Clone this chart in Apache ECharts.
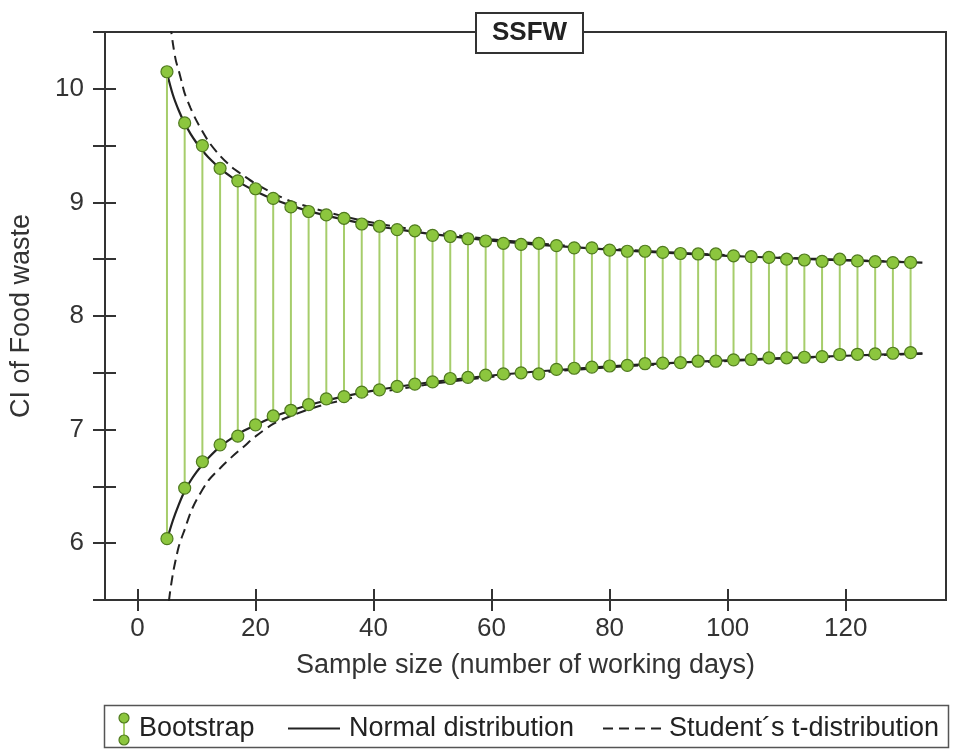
<!DOCTYPE html>
<html><head><meta charset="utf-8">
<script src="https://cdn.jsdelivr.net/npm/echarts@6/dist/echarts.min.js"></script>
<style>html,body{margin:0;padding:0;background:#fff}#c{width:959px;height:751px}</style>
</head><body><div id="c"></div>
<script>
// Bootstrap confidence interval end points (sample size n = 5, 8, ..., 131)
const bootX = [5,8,11,14,17,20,23,26,29,32,35,38,41,44,47,50,53,56,59,62,65,68,71,74,77,80,83,86,89,92,95,98,101,104,107,110,113,116,119,122,125,128,131];
const bootHigh = [10.15,9.70,9.50,9.30,9.19,9.12,9.035,8.96,8.92,8.89,8.86,8.81,8.79,8.76,8.75,8.71,8.70,8.68,8.66,8.64,8.63,8.64,8.62,8.60,8.60,8.58,8.57,8.57,8.56,8.55,8.546,8.546,8.53,8.522,8.516,8.50,8.493,8.481,8.50,8.485,8.478,8.47,8.472];
const bootLow = [6.04,6.485,6.717,6.866,6.942,7.042,7.12,7.17,7.22,7.27,7.29,7.33,7.35,7.38,7.40,7.42,7.45,7.46,7.48,7.49,7.50,7.49,7.53,7.54,7.55,7.56,7.565,7.58,7.585,7.59,7.602,7.602,7.614,7.617,7.632,7.632,7.637,7.643,7.661,7.663,7.667,7.672,7.678];

// Normal distribution CI curve
const normX = [5,6,7,8,9,10,11,12,14,16,18,20,23,26,30,35,40,45,50,60,70,80,90,100,110,120,133];
const normHigh = [10.14,9.948,9.809,9.696,9.603,9.525,9.457,9.398,9.299,9.22,9.154,9.099,9.029,8.972,8.91,8.848,8.797,8.756,8.721,8.664,8.62,8.584,8.555,8.53,8.509,8.49,8.469];
const normLow = [6.03,6.20,6.34,6.46,6.55,6.625,6.69,6.75,6.85,6.925,6.99,7.04,7.111,7.168,7.23,7.292,7.343,7.384,7.419,7.476,7.52,7.556,7.585,7.61,7.631,7.65,7.671];

// Student's t-distribution CI curve
const tX = [5,5.5,6,6.5,7,7.5,8,9,10,12,14,16,18,20,23,26,30,35,40,50,60,70,80,90,100,110,120,133];
const tHigh = [10.85,10.6,10.40,10.25,10.16,10.06,9.96,9.83,9.72,9.54,9.41,9.31,9.235,9.165,9.08,9.01,8.945,8.877,8.82,8.738,8.676,8.63,8.592,8.562,8.536,8.513,8.494,8.472];
const tLow = [5.35,5.56,5.73,5.86,5.97,6.05,6.12,6.27,6.38,6.55,6.66,6.76,6.85,6.94,7.05,7.12,7.195,7.263,7.32,7.402,7.464,7.51,7.548,7.578,7.604,7.627,7.646,7.668];

const xTickLabels = [0,20,40,60,80,100,120];
const yTickLabels = [6,7,8,9,10];

const FONT = "'Liberation Sans', Arial, Helvetica, sans-serif";
const AX = '#333';
const GREEN = '#8cc63e', GREEN_EDGE = '#4f7a1e', STEM = '#a6cd6b';
const CLEAR = 'rgba(0,0,0,0)';

const bootIcon = 'image://data:image/svg+xml;charset=utf-8,' + encodeURIComponent(
 '<svg xmlns="http://www.w3.org/2000/svg" width="12" height="34" viewBox="0 0 12 34">' +
 '<line x1="6" y1="6" x2="6" y2="28" stroke="' + STEM + '" stroke-width="2"/>' +
 '<circle cx="6" cy="6" r="5" fill="' + GREEN + '" stroke="' + GREEN_EDGE + '" stroke-width="1.2"/>' +
 '<circle cx="6" cy="28" r="5" fill="' + GREEN + '" stroke="' + GREEN_EDGE + '" stroke-width="1.2"/></svg>');

const xBase = {
  type: 'value', min: -5.5, max: 137, position: 'bottom',
  splitLine: {show: false}
};
const yBase = {
  type: 'value', min: 5.5, max: 10.5, interval: 0.5, position: 'left',
  splitLine: {show: false}
};

const chart = echarts.init(document.getElementById('c'));
chart.setOption({
  backgroundColor: '#fff',
  animation: false,
  title: {
    text: 'SSFW', left: 476, top: 13,
    padding: [7, 16],
    backgroundColor: '#fff', borderColor: AX, borderWidth: 2,
    textStyle: {fontFamily: FONT, fontWeight: 'bold', fontSize: 26, color: '#222'}
  },
  grid: {left: 104, right: 13, top: 32, bottom: 151, show: true, borderColor: AX, borderWidth: 2, backgroundColor: 'transparent'},
  xAxis: [
    Object.assign({}, xBase, {
      name: 'Sample size (number of working days)', nameLocation: 'middle', nameGap: 52,
      nameTextStyle: {fontFamily: FONT, fontSize: 27, color: '#333'},
      axisLine: {show: true, onZero: false, lineStyle: {color: AX, width: 2}},
      axisTick: {show: true, inside: false, length: 11, customValues: xTickLabels, lineStyle: {color: AX, width: 2}},
      axisLabel: {show: true, margin: 16, customValues: xTickLabels, fontFamily: FONT, fontSize: 26, color: '#333'}
    }),
    Object.assign({}, xBase, {
      axisLine: {show: false, onZero: false},
      axisTick: {show: true, inside: true, length: 11, customValues: xTickLabels, lineStyle: {color: AX, width: 2}},
      axisLabel: {show: false}
    })
  ],
  yAxis: [
    Object.assign({}, yBase, {
      name: 'CI of Food waste', nameLocation: 'middle', nameGap: 70,
      nameTextStyle: {fontFamily: FONT, fontSize: 27, color: '#333'},
      axisLine: {show: true, onZero: false, lineStyle: {color: AX, width: 2}},
      axisTick: {show: true, inside: false, length: 12, lineStyle: {color: AX, width: 2}},
      axisLabel: {show: true, margin: 21, customValues: yTickLabels, fontFamily: FONT, fontSize: 26, color: '#333'}
    }),
    Object.assign({}, yBase, {
      axisLine: {show: false, onZero: false},
      axisTick: {show: true, inside: true, length: 11, lineStyle: {color: AX, width: 2}},
      axisLabel: {show: false}
    })
  ],
  legend: [
    {data: [{name: 'Bootstrap', icon: bootIcon}], left: 113, top: 707, itemWidth: 12, itemHeight: 34,
     textStyle: {fontFamily: FONT, fontSize: 27, color: '#222', padding: [0,0,0,4]}},
    {data: ['Normal distribution'], left: 282, top: 710, itemWidth: 52, itemHeight: 14,
     textStyle: {fontFamily: FONT, fontSize: 27, color: '#222', padding: [0,0,0,4]}},
    {data: ['Student´s t-distribution'], left: 597, top: 710, itemWidth: 60, itemHeight: 14,
     textStyle: {fontFamily: FONT, fontSize: 27, color: '#222', padding: [0,0,0,1]}}
  ],
  graphic: [
    {type: 'rect', left: 102, top: 703, shape: {width: 844, height: 42},
     style: {fill: 'none', stroke: '#555', lineWidth: 1.5}, z: -10}
  ],
  series: [
    {
      name: 'Normal distribution', type: 'line', z: 2, symbol: 'none', smooth: 0.3,
      data: normX.map((x, i) => [x, normHigh[i]]),
      lineStyle: {color: '#222', width: 2.2}, itemStyle: {color: CLEAR}
    },
    {
      name: 'Normal distribution', type: 'line', z: 2, symbol: 'none', smooth: 0.3,
      data: normX.map((x, i) => [x, normLow[i]]),
      lineStyle: {color: '#222', width: 2.2}, itemStyle: {color: CLEAR}
    },
    {
      name: 'Student´s t-distribution', type: 'line', z: 2, symbol: 'none', smooth: 0.3,
      data: tX.map((x, i) => [x, tHigh[i]]),
      lineStyle: {color: '#222', width: 2, type: [10, 6]}, itemStyle: {color: CLEAR}
    },
    {
      name: 'Student´s t-distribution', type: 'line', z: 2, symbol: 'none', smooth: 0.3,
      data: tX.map((x, i) => [x, tLow[i]]),
      lineStyle: {color: '#222', width: 2, type: [10, 6]}, itemStyle: {color: CLEAR}
    },
    {
      name: 'Bootstrap', type: 'custom', z: 3,
      data: bootX.map((x, i) => [x, bootLow[i], bootHigh[i]]),
      encode: {x: 0, y: [1, 2]},
      itemStyle: {color: GREEN},
      renderItem: function (params, api) {
        const x = api.value(0);
        const pl = api.coord([x, api.value(1)]);
        const ph = api.coord([x, api.value(2)]);
        const circ = (p) => ({type: 'circle', shape: {cx: p[0], cy: p[1], r: 6},
          style: {fill: GREEN, stroke: GREEN_EDGE, lineWidth: 1.2}});
        return {type: 'group', children: [
          {type: 'line', shape: {x1: pl[0], y1: pl[1], x2: ph[0], y2: ph[1]}, style: {stroke: STEM, lineWidth: 2}},
          circ(ph), circ(pl)
        ]};
      }
    }
  ]
});
</script>
</body></html>
